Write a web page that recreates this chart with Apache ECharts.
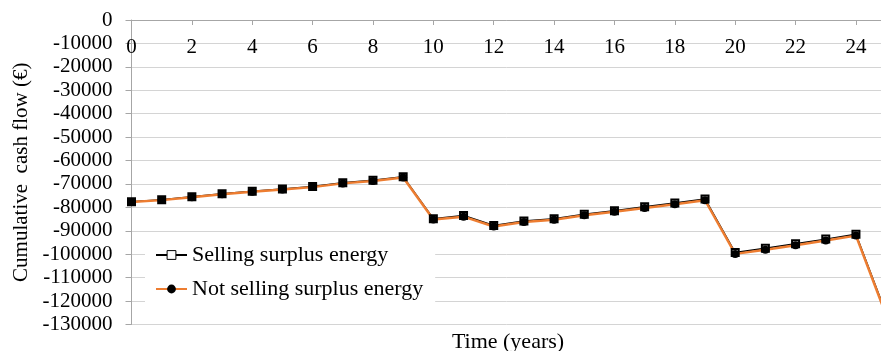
<!DOCTYPE html>
<html>
<head>
<meta charset="utf-8">
<script src="https://cdn.jsdelivr.net/npm/echarts@6/dist/echarts.min.js"></script>
<style>
html,body{margin:0;padding:0;background:#fff;}
#c{width:881px;height:351px;}
</style>
</head>
<body>
<div id="c"></div>
<script>
var years = [0,1,2,3,4,5,6,7,8,9,10,11,12,13,14,15,16,17,18,19,20,21,22,23,24,25];
var sellingSurplus = [-77600,-76750,-75450,-74150,-73100,-72100,-71050,-69450,-68400,-66900,-84800,-83500,-87700,-85800,-84800,-82900,-81400,-79700,-78150,-76400,-99300,-97450,-95550,-93550,-91450,-125300];
var notSellingSurplus = [-77700,-76900,-75650,-74350,-73350,-72350,-71350,-69750,-68750,-67250,-85200,-83950,-88150,-86250,-85250,-83350,-81900,-80250,-78700,-76950,-99850,-98050,-96150,-94150,-92050,-126000];
var seriesNames = ['Selling surplus energy','Not selling surplus energy'];
var yTitle = 'Cumulative  cash flow (€)';
var xTitle = 'Time (years)';

function pairs(xs, ys){ return xs.map(function(x,i){ return [x, ys[i]]; }); }

var FONT = 'Liberation Serif';
var chart = echarts.init(document.getElementById('c'), null, {renderer:'canvas'});
chart.setOption({
  animation: false,
  backgroundColor: '#fff',
  grid: {left: 131.5, right: 0, top: 20, bottom: 26.5, containLabel: false},
  xAxis: {
    type: 'value', min: 0, max: 24.83, interval: 2, position: 'top',
    axisLine: {show: true, onZero: false, lineStyle: {color: '#A6A6A6', width: 1}},
    axisTick: {show: true, inside: true, length: 5, lineStyle: {color: '#A6A6A6'}},
    axisLabel: {inside: true, margin: 17, showMaxLabel: false, fontFamily: FONT, fontSize: 21, color: '#000',
      formatter: function(v){ return String(v); }},
    splitLine: {show: false}
  },
  yAxis: {
    type: 'value', min: -130000, max: 0, interval: 10000,
    name: yTitle, nameLocation: 'middle', nameGap: 100,
    nameTextStyle: {fontFamily: FONT, fontSize: 21, color: '#000'},
    axisLine: {show: true, lineStyle: {color: '#A6A6A6', width: 1}},
    axisTick: {show: true, length: 6, lineStyle: {color: '#A6A6A6'}},
    axisLabel: {margin: 19, fontFamily: FONT, fontSize: 21, color: '#000',
      formatter: function(v){ return String(v); }},
    splitLine: {show: true, lineStyle: {color: '#D4D4D4', width: 1}}
  },
  legend: {
    orient: 'vertical', left: 145, top: 238,
    padding: [6, 12, 8, 10], itemGap: 12, itemWidth: 31, itemHeight: 11,
    backgroundColor: '#fff',
    textStyle: {fontFamily: FONT, fontSize: 22, color: '#000', lineHeight: 22},
    data: [
      {name: seriesNames[0], itemStyle: {color: '#fff', borderColor: '#000', borderWidth: 1}},
      {name: seriesNames[1]}
    ]
  },
  graphic: [{
    type: 'text', x: 508, y: 342,
    style: {text: xTitle, font: "22px 'Liberation Serif'", fill: '#000', textAlign: 'center', textVerticalAlign: 'middle'}
  }],
  series: [{
    name: seriesNames[0], type: 'line', data: pairs(years, sellingSurplus),
    symbol: 'rect', symbolSize: 7, showAllSymbol: true,
    itemStyle: {color: '#fff', borderColor: '#000', borderWidth: 2},
    lineStyle: {color: '#000', width: 1.5}
  },{
    name: seriesNames[1], type: 'line', data: pairs(years, notSellingSurplus),
    symbol: 'circle', symbolSize: 8, showAllSymbol: true,
    itemStyle: {color: '#000'},
    lineStyle: {color: '#ED7D31', width: 2.5}
  }]
});
</script>
</body>
</html>
